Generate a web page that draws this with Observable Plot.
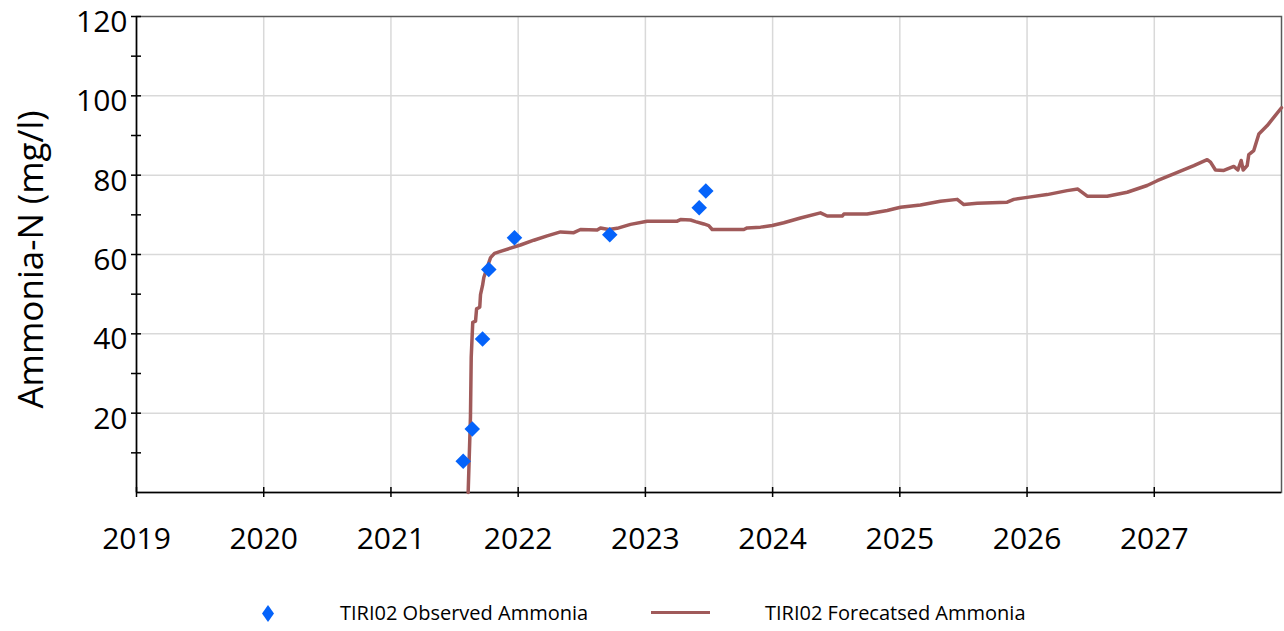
<!DOCTYPE html>
<html><head><meta charset="utf-8">
<script src="https://cdn.jsdelivr.net/npm/d3@7"></script>
<script src="https://cdn.jsdelivr.net/npm/@observablehq/plot@0.6"></script>
<style>
body{margin:0;background:#fff;font-family:"Open Sans",sans-serif;}
#legend{position:relative;height:51px;width:1284px;}
#legend .t{position:absolute;top:20px;line-height:26px;font-size:20px;color:#000;white-space:nowrap;}
</style></head><body>
<div id="chart"></div>
<div id="legend">
  <svg style="position:absolute;left:262px;top:25px" width="12" height="17"><polygon points="6,0 12,8.5 6,17 0,8.5" fill="#0563fa"/></svg>
  <span class="t" style="left:340px">TIRI02 Observed Ammonia</span>
  <div style="position:absolute;left:651px;top:31px;width:59px;height:3px;background:#a05a5a"></div>
  <span class="t" style="left:765px">TIRI02 Forecatsed Ammonia</span>
</div>
<script>
const obsYears = [2021.568, 2021.639, 2021.720, 2021.769, 2021.971, 2022.720, 2023.423, 2023.475];
const obsValues = [7.9, 16.0, 38.7, 56.2, 64.2, 65.0, 71.8, 76.0];

const fcYears = [2021.607, 2021.625, 2021.631, 2021.643, 2021.665, 2021.673, 2021.698, 2021.704, 2021.720, 2021.730,
  2021.757, 2021.783, 2021.814, 2021.861, 2021.940, 2022.018, 2022.123, 2022.228, 2022.333, 2022.437,
  2022.490, 2022.621, 2022.647, 2022.712, 2022.778, 2022.883, 2023.014, 2023.250, 2023.276, 2023.355,
  2023.394, 2023.459, 2023.498, 2023.525, 2023.774, 2023.800, 2023.905, 2023.997, 2024.088, 2024.219,
  2024.376, 2024.429, 2024.547, 2024.560, 2024.743, 2024.901, 2025.005, 2025.162, 2025.319, 2025.451,
  2025.503, 2025.608, 2025.844, 2025.896, 2026.001, 2026.158, 2026.315, 2026.399, 2026.473, 2026.630,
  2026.787, 2026.944, 2027.023, 2027.153, 2027.311, 2027.416, 2027.442, 2027.481, 2027.547, 2027.625,
  2027.657, 2027.683, 2027.699, 2027.730, 2027.743, 2027.782, 2027.822, 2027.888, 2028.0];
const fcValues = [0, 19.0, 34.1, 42.9, 43.2, 46.3, 46.7, 49.9, 52.2, 54.2,
  56.8, 59.2, 60.3, 60.8, 61.6, 62.4, 63.6, 64.7, 65.7, 65.5,
  66.3, 66.2, 66.7, 66.3, 66.6, 67.6, 68.4, 68.4, 68.8, 68.7,
  68.3, 67.7, 67.3, 66.3, 66.3, 66.7, 66.9, 67.3, 68.0, 69.2,
  70.5, 69.7, 69.7, 70.2, 70.2, 71.1, 71.9, 72.5, 73.4, 73.9,
  72.6, 72.9, 73.2, 73.9, 74.4, 75.1, 76.1, 76.5, 74.7, 74.7,
  75.7, 77.4, 78.6, 80.3, 82.4, 83.9, 83.3, 81.3, 81.2, 82.2,
  81.3, 83.7, 81.3, 82.4, 85.2, 86.2, 90.4, 92.5, 97.0];

const xTicks = [2019, 2020, 2021, 2022, 2023, 2024, 2025, 2026, 2027];
const yLabelTicks = [20, 40, 60, 80, 100, 120];
const yGridTicks = [20, 40, 60, 80, 100];
const yAllTicks = [10, 20, 30, 40, 50, 60, 70, 80, 90, 100, 110, 120];
const yTitle = "Ammonia-N (mg/l)";

const obs = obsYears.map((x, i) => ({x, y: obsValues[i]}));
const fc = fcYears.map((x, i) => ({x, y: fcValues[i]}));

const lineColor = "#a05a5a";
const dotColor = "#0563fa";

const chart = Plot.plot({
  width: 1284,
  height: 580,
  marginLeft: 136,
  marginRight: 3,
  marginTop: 16,
  marginBottom: 88,
  x: {domain: [2019, 2028]},
  y: {domain: [0, 120]},
  style: {fontFamily: "'Open Sans', sans-serif", fontSize: "30px", color: "#000", background: "#fff"},
  marks: [
    Plot.gridX(xTicks.slice(1), {stroke: "#d9d9d9", strokeOpacity: 1, strokeWidth: 1.5}),
    Plot.gridY(yGridTicks, {stroke: "#d9d9d9", strokeOpacity: 1, strokeWidth: 1.5}),
    Plot.frame({stroke: "#595959", strokeWidth: 1.5}),
    Plot.ruleX([2019], {stroke: "#000", strokeWidth: 1.5}),
    Plot.ruleY([0], {stroke: "#000", strokeWidth: 1.5}),
    Plot.ruleX(xTicks, {x: d => d, y1: () => 0, y2: () => 0, insetTop: -5, insetBottom: -5, stroke: "#000", strokeWidth: 1.5}),
    Plot.ruleY(yAllTicks, {y: d => d, x1: () => 2019, x2: () => 2019, insetLeft: -5, insetRight: -5, stroke: "#000", strokeWidth: 1.5}),
    Plot.axisX(xTicks, {tickSize: 0, tickPadding: 35, tickFormat: d => String(d), label: null, fontSize: 30}),
    Plot.axisY(yLabelTicks, {tickSize: 0, tickPadding: 9, dy: 6, label: null, fontSize: 30}),
    Plot.text([yTitle], {frameAnchor: "left", textAnchor: "middle", rotate: -90, dx: -105, dy: 5, fontSize: 35, text: d => d}),
    Plot.line(fc, {x: "x", y: "y", stroke: lineColor, strokeWidth: 3.5, curve: "linear"}),
    Plot.dot(obs, {x: "x", y: "y", symbol: "diamond2", r: 7, fill: dotColor, stroke: null})
  ]
});
document.getElementById("chart").appendChild(chart);
</script>
</body></html>
